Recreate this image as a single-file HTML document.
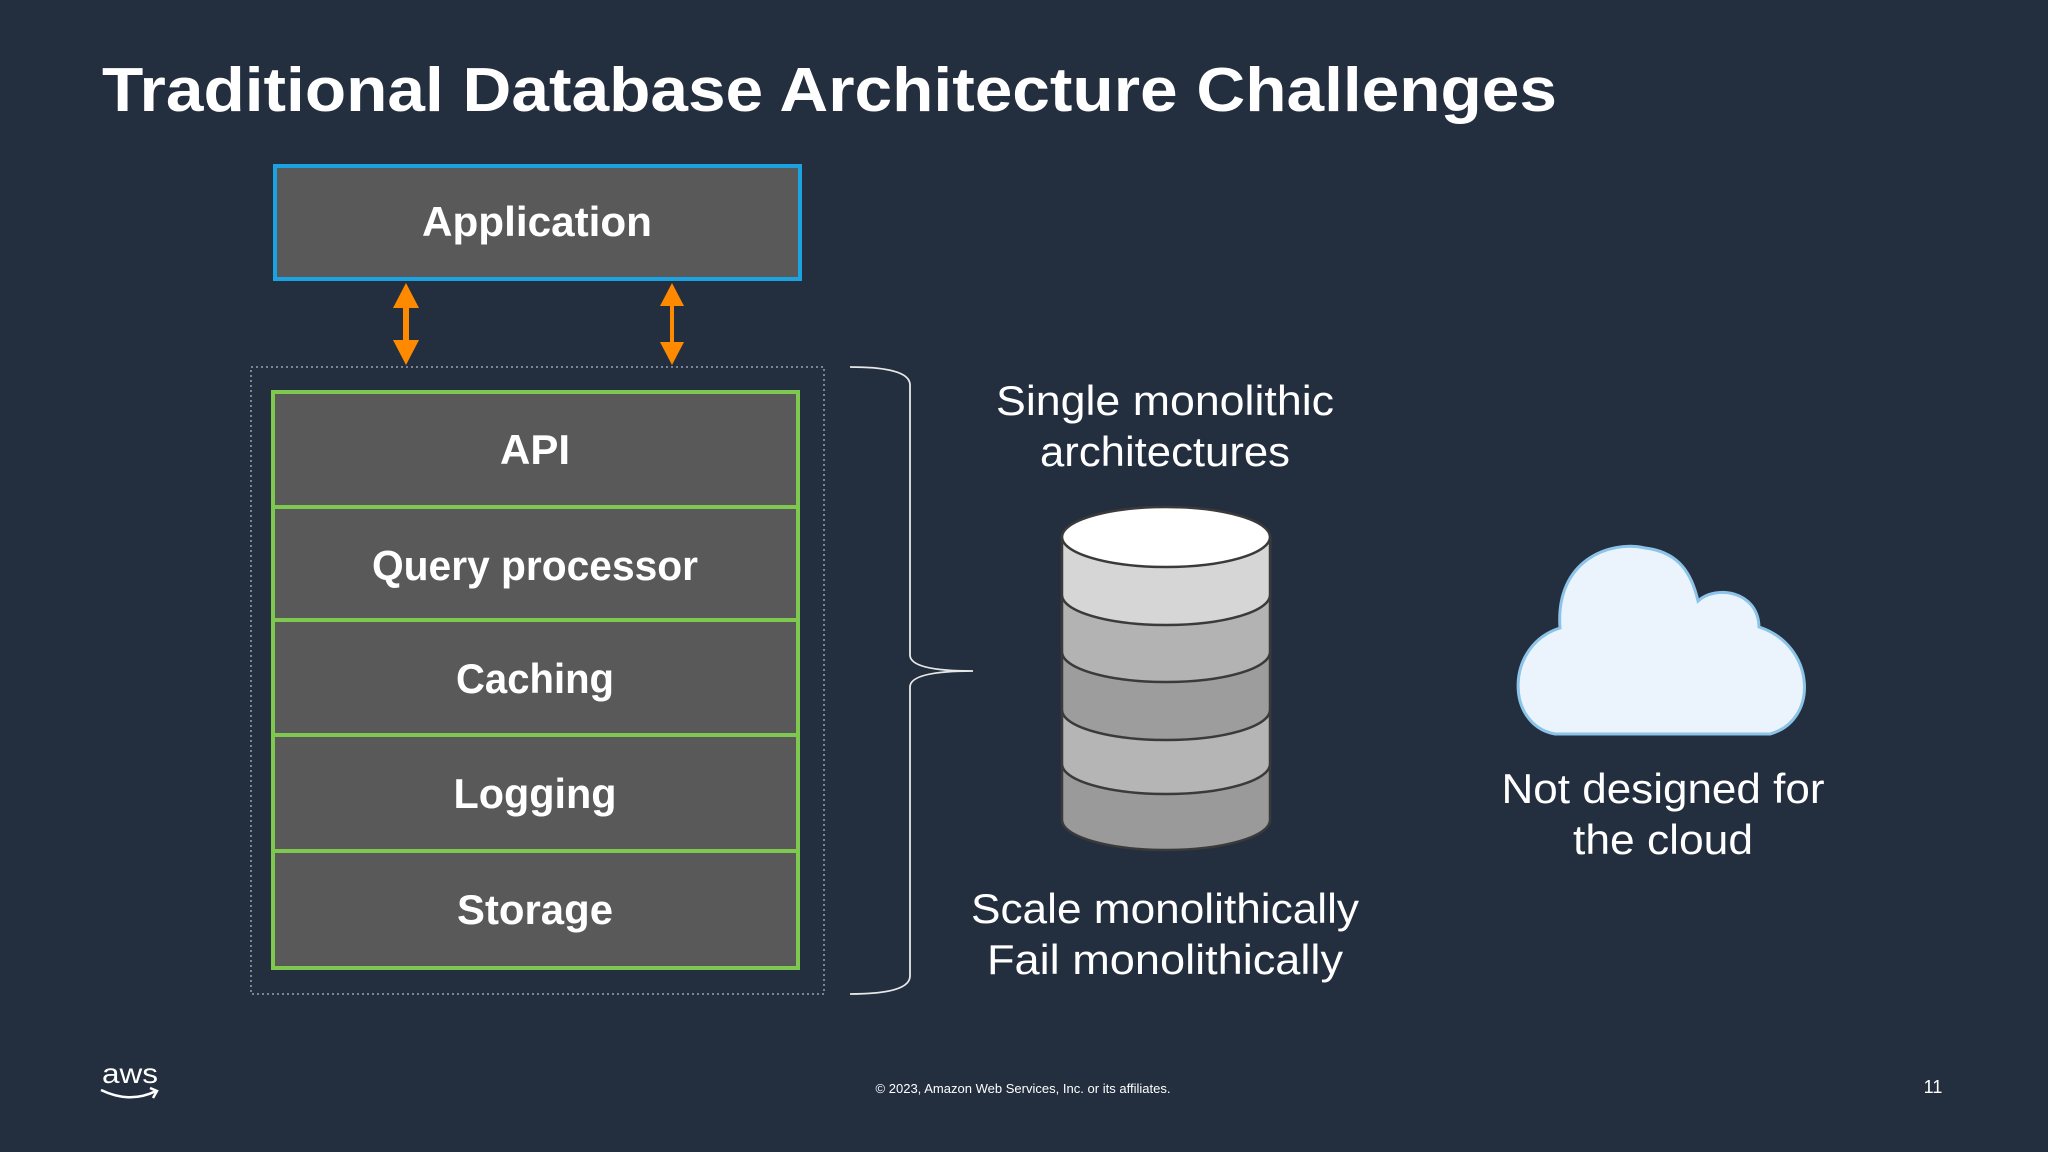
<!DOCTYPE html>
<html><head><meta charset="utf-8"><style>
html,body{margin:0;padding:0;background:#232e3f;}
svg{display:block}
text{font-family:"Liberation Sans","DejaVu Sans",sans-serif;fill:#fff}
</style></head><body>
<svg width="2048" height="1152" viewBox="0 0 2048 1152" xmlns="http://www.w3.org/2000/svg">
<rect width="2048" height="1152" fill="#232e3f"/>
<text x="102" y="111" font-size="62" font-weight="bold" textLength="1455" lengthAdjust="spacingAndGlyphs">Traditional Database Architecture Challenges</text>

<!-- Application -->
<rect x="275" y="166" width="525" height="113" fill="#595959" stroke="#1aa3e0" stroke-width="4"/>
<text x="537" y="236" font-size="42" font-weight="bold" text-anchor="middle" textLength="230" lengthAdjust="spacingAndGlyphs">Application</text>

<!-- arrows -->
<g fill="#ff8a00">
<polygon points="406,283 419,308 409,308 409,340 419,340 406,365 393,340 403,340 403,308 393,308"/>
<polygon points="672,283 684,306 674,306 674,342 684,342 672,365 660,342 670,342 670,306 660,306"/>
</g>

<!-- dotted container -->
<rect x="251" y="367" width="573" height="627" fill="none" stroke="#9aa3ad" stroke-width="1.5" stroke-dasharray="2,3"/>

<!-- stack -->
<rect x="273" y="392" width="525" height="576" fill="#595959" stroke="#7ec850" stroke-width="4"/>
<g stroke="#7ec850" stroke-width="4">
<line x1="273" y1="507" x2="798" y2="507"/>
<line x1="273" y1="620" x2="798" y2="620"/>
<line x1="273" y1="735" x2="798" y2="735"/>
<line x1="273" y1="851" x2="798" y2="851"/>
</g>
<g font-size="42" font-weight="bold" text-anchor="middle">
<text x="535" y="464">API</text>
<text x="535" y="580" textLength="326" lengthAdjust="spacingAndGlyphs">Query processor</text>
<text x="535" y="693" textLength="158" lengthAdjust="spacingAndGlyphs">Caching</text>
<text x="535" y="808" textLength="163" lengthAdjust="spacingAndGlyphs">Logging</text>
<text x="535" y="924" textLength="156" lengthAdjust="spacingAndGlyphs">Storage</text>
</g>

<!-- brace -->
<path d="M850,367 Q910,367 910,385 L910,655 Q910,671 973,671 Q910,671 910,687 L910,976 Q910,994 850,994" fill="none" stroke="#e8e8e8" stroke-width="1.8"/>

<g font-size="42" text-anchor="middle">
<text x="1165" y="415" textLength="338" lengthAdjust="spacingAndGlyphs">Single monolithic</text>
<text x="1165" y="466" textLength="250" lengthAdjust="spacingAndGlyphs">architectures</text>
<text x="1165" y="923" textLength="388" lengthAdjust="spacingAndGlyphs">Scale monolithically</text>
<text x="1165" y="974" textLength="356" lengthAdjust="spacingAndGlyphs">Fail monolithically</text>
<text x="1663" y="803" textLength="323" lengthAdjust="spacingAndGlyphs">Not designed for</text>
<text x="1663" y="854" textLength="180" lengthAdjust="spacingAndGlyphs">the cloud</text>
</g>

<!-- cylinder -->
<g stroke="#3a3a3a" stroke-width="2.5">
<path d="M1062,537 L1062,820 A104,30 0 0 0 1270,820 L1270,537 Z" fill="#9a9a9a"/>
<path d="M1062,537 L1062,764 A104,30 0 0 0 1270,764 L1270,537 Z" fill="#b5b5b5"/>
<path d="M1062,537 L1062,710 A104,30 0 0 0 1270,710 L1270,537 Z" fill="#9d9d9d"/>
<path d="M1062,537 L1062,652 A104,30 0 0 0 1270,652 L1270,537 Z" fill="#b3b3b3"/>
<path d="M1062,537 L1062,595 A104,30 0 0 0 1270,595 L1270,537 Z" fill="#d6d6d6"/>
<ellipse cx="1166" cy="537" rx="104" ry="30" fill="#ffffff"/>
</g>

<!-- cloud -->
<path d="M1555,734 C1505,725 1505,645 1560,628 C1555,560 1610,540 1645,548 C1680,552 1692,575 1698,601 C1715,585 1758,590 1759,627 C1815,645 1820,720 1770,734 Z" fill="#ebf4fc" stroke="#8cc3e8" stroke-width="3"/>

<!-- footer -->
<text x="102" y="1083" font-size="28" textLength="56" lengthAdjust="spacingAndGlyphs">aws</text>
<path d="M101,1090 Q130,1104 156,1091 M150,1088 L157,1091 L153,1098" fill="none" stroke="#fff" stroke-width="2.5"/>
<text x="1023" y="1093" font-size="13" text-anchor="middle" textLength="295" lengthAdjust="spacingAndGlyphs">© 2023, Amazon Web Services, Inc. or its affiliates.</text>
<text x="1933" y="1093" font-size="18" text-anchor="middle">11</text>
</svg>
</body></html>
